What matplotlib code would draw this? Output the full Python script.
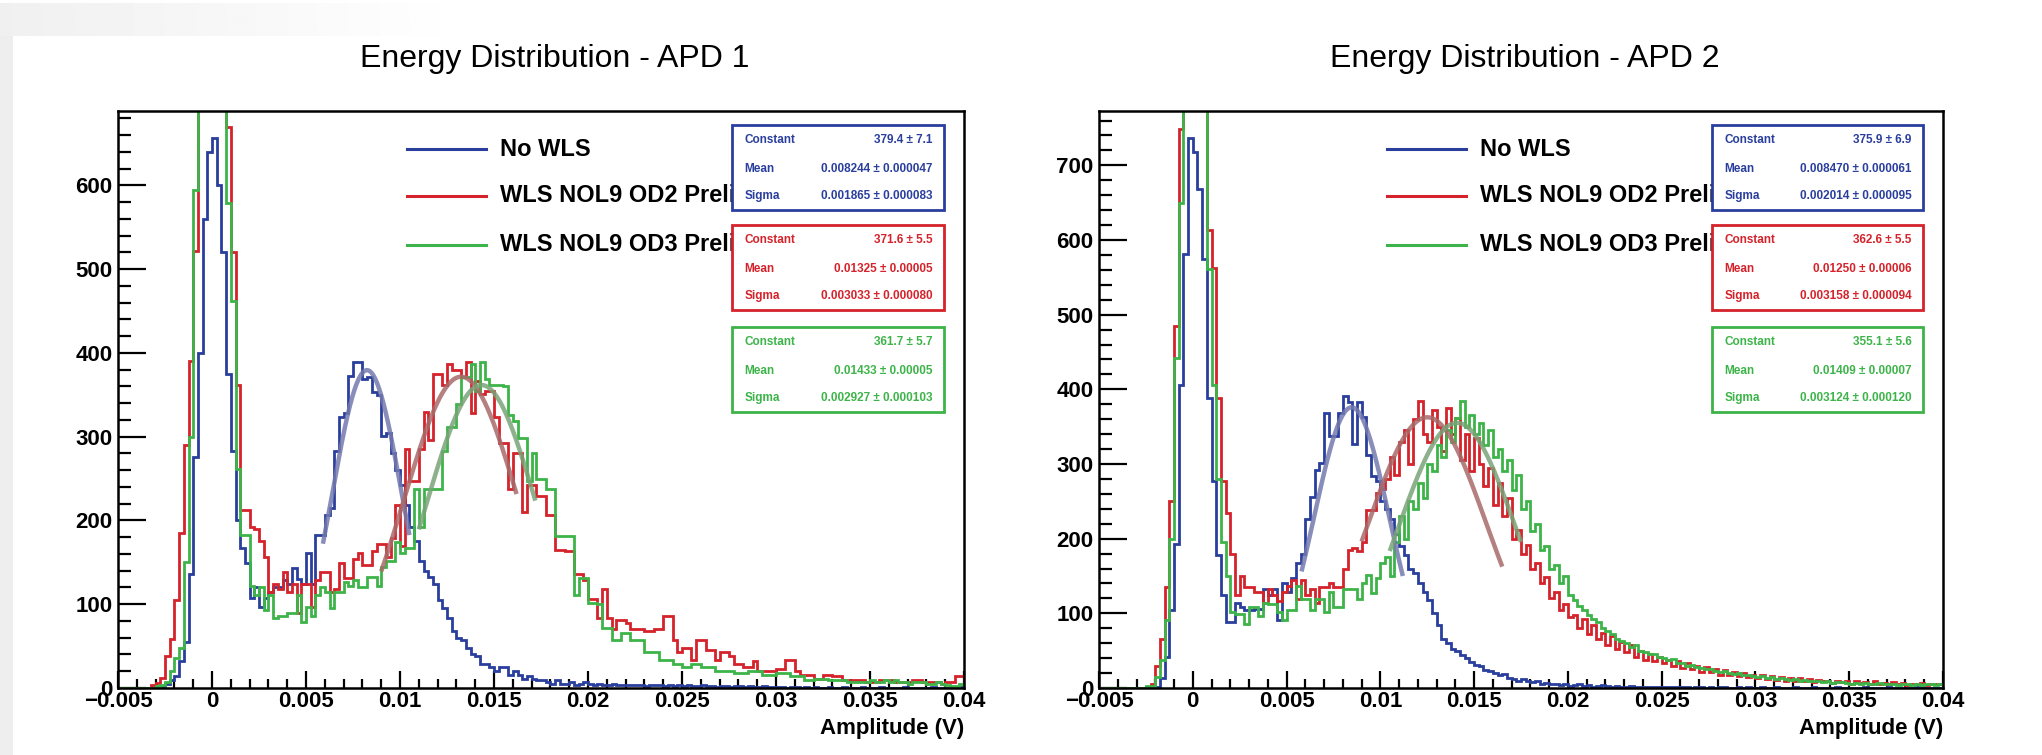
import numpy as np
import matplotlib
matplotlib.use("Agg")
import matplotlib.pyplot as plt
from matplotlib.patches import Rectangle
from matplotlib.lines import Line2D
from matplotlib.ticker import MultipleLocator, FuncFormatter

# amplitude histograms: 180 bins from -0.005 V to 0.04 V
x_lo, x_hi, n_bins = -0.005, 0.04, 180

apd1_nowls = (
    [0, 0, 0, 0, 0, 0, 0, 0, 0, 2, 5, 9, 14, 32, 55, 136, 276, 400, 560, 640]
    + [656, 600, 520, 375, 283, 201, 167, 149, 108, 120, 97, 108, 115, 120, 120, 129, 124, 143, 130, 124]
    + [161, 124, 183, 183, 206, 215, 283, 324, 328, 373, 389, 389, 369, 371, 353, 350, 301, 305, 280, 260]
    + [242, 219, 192, 175, 152, 140, 133, 124, 105, 95, 84, 68, 60, 57, 48, 40, 38, 29, 29, 25]
    + [20, 25, 25, 16, 20, 16, 11, 14, 11, 9, 9, 7, 5, 9, 5, 5, 7, 4, 5, 7]
    + [5, 4, 5, 3, 4, 5, 3, 3, 4, 3, 3, 4, 2, 3, 4, 3, 2, 3, 2, 3]
    + [2, 3, 2, 2, 3, 2, 2, 1, 2, 2, 1, 2, 2, 1, 2, 1, 1, 2, 1, 1]
    + [1, 1, 0, 1, 1, 0, 1, 0, 1, 0, 0, 1, 0, 0, 1, 0, 0, 0, 1, 0]
    + [0, 0, 1, 0, 0, 0, 0, 1, 0, 0, 0, 0, 0, 1, 0, 0, 0, 0, 0, 1]
)
apd1_od2 = (
    [0, 0, 0, 0, 0, 0, 0, 3, 6, 12, 38, 58, 105, 185, 290, 390, 522, 760, 830, 850]
    + [810, 760, 700, 670, 520, 362, 213, 213, 192, 190, 176, 156, 115, 124, 118, 138, 115, 124, 90, 124]
    + [124, 97, 129, 138, 138, 115, 118, 149, 131, 131, 154, 161, 147, 147, 163, 172, 172, 156, 179, 219]
    + [170, 285, 247, 247, 285, 330, 296, 375, 375, 362, 387, 380, 380, 371, 389, 328, 366, 351, 355, 355]
    + [323, 292, 292, 238, 280, 280, 210, 242, 242, 229, 229, 206, 206, 165, 165, 163, 163, 136, 136, 129]
    + [106, 106, 84, 118, 84, 70, 81, 81, 77, 70, 70, 70, 68, 68, 70, 70, 86, 86, 57, 43]
    + [48, 48, 34, 57, 57, 45, 45, 34, 43, 43, 38, 29, 29, 25, 25, 32, 20, 20, 20, 20]
    + [23, 23, 34, 34, 20, 16, 16, 16, 11, 11, 16, 16, 14, 14, 9, 9, 9, 9, 9, 7]
    + [7, 7, 9, 9, 9, 7, 7, 7, 7, 9, 9, 7, 7, 7, 7, 5, 7, 7, 14, 14]
)
apd1_od3 = (
    [0, 0, 0, 0, 0, 0, 0, 0, 2, 4, 7, 20, 36, 48, 150, 300, 595, 720, 850, 900]
    + [870, 800, 720, 579, 462, 262, 183, 183, 122, 111, 120, 93, 111, 84, 86, 86, 90, 90, 111, 79]
    + [97, 86, 111, 120, 115, 95, 115, 115, 127, 122, 129, 120, 120, 133, 133, 122, 145, 152, 152, 174]
    + [161, 167, 167, 238, 192, 238, 238, 238, 238, 283, 312, 312, 339, 371, 371, 387, 355, 389, 369, 362]
    + [362, 362, 360, 326, 319, 299, 299, 247, 280, 249, 249, 238, 238, 181, 181, 181, 181, 111, 131, 131]
    + [102, 102, 100, 72, 72, 57, 57, 66, 66, 57, 57, 57, 43, 43, 43, 34, 34, 34, 29, 29]
    + [25, 25, 29, 29, 25, 25, 25, 20, 20, 20, 20, 18, 18, 18, 20, 20, 20, 16, 16, 16]
    + [18, 18, 18, 14, 14, 14, 9, 9, 11, 11, 11, 9, 9, 9, 9, 7, 7, 7, 7, 7]
    + [9, 7, 7, 9, 7, 9, 7, 7, 5, 7, 7, 7, 5, 5, 7, 5, 3, 2, 2, 5]
)

apd2_nowls = (
    [0, 0, 0, 0, 0, 0, 0, 0, 0, 0, 0, 0, 2, 13, 41, 104, 193, 406, 581, 736]
    + [718, 668, 574, 388, 277, 178, 124, 89, 89, 114, 109, 104, 104, 106, 106, 132, 124, 132, 91, 140]
    + [129, 147, 168, 180, 226, 256, 292, 302, 368, 338, 338, 368, 391, 383, 327, 383, 363, 312, 284, 277]
    + [250, 240, 226, 206, 190, 178, 160, 154, 140, 128, 118, 100, 84, 66, 60, 52, 49, 44, 40, 35]
    + [31, 30, 24, 23, 20, 17, 19, 14, 12, 10, 12, 9, 8, 10, 6, 7, 5, 6, 4, 5]
    + [3, 4, 5, 3, 4, 2, 3, 4, 3, 2, 3, 2, 2, 3, 1, 2, 2, 1, 2, 1]
    + [2, 1, 1, 2, 1, 1, 0, 1, 1, 0, 1, 0, 1, 1, 0, 0, 1, 0, 1, 0]
    + [0, 1, 0, 0, 1, 0, 0, 0, 1, 0, 0, 0, 1, 0, 0, 0, 0, 1, 0, 0]
    + [0, 0, 0, 1, 0, 0, 0, 0, 1, 0, 0, 0, 0, 0, 1, 0, 0, 0, 0, 0]
)
apd2_od2 = (
    [0, 0, 0, 0, 0, 0, 0, 0, 0, 0, 2, 5, 30, 66, 135, 250, 485, 749, 830, 880]
    + [870, 830, 790, 614, 563, 388, 277, 234, 180, 124, 150, 135, 135, 129, 129, 114, 132, 124, 117, 129]
    + [137, 145, 119, 145, 124, 132, 114, 135, 135, 140, 135, 135, 160, 185, 188, 183, 195, 239, 239, 261]
    + [266, 280, 310, 285, 330, 345, 300, 360, 385, 340, 330, 372, 350, 318, 375, 340, 362, 305, 340, 290]
    + [335, 300, 270, 295, 245, 275, 230, 255, 200, 212, 180, 192, 160, 168, 140, 148, 120, 128, 105, 112]
    + [95, 98, 80, 92, 72, 85, 66, 74, 58, 70, 52, 62, 48, 58, 42, 50, 38, 46, 36, 42]
    + [33, 38, 30, 36, 27, 33, 25, 30, 22, 28, 21, 26, 18, 24, 17, 22, 16, 20, 15, 18]
    + [14, 17, 12, 16, 11, 15, 10, 14, 9, 13, 10, 12, 8, 11, 9, 10, 7, 10, 8, 9]
    + [6, 9, 7, 8, 6, 9, 5, 7, 6, 8, 5, 7, 4, 6, 5, 7, 4, 6, 5, 6]
)
apd2_od3 = (
    [0, 0, 0, 0, 0, 0, 0, 0, 0, 0, 3, 3, 15, 38, 91, 200, 442, 650, 800, 850]
    + [840, 800, 780, 561, 406, 280, 195, 150, 102, 99, 99, 86, 109, 109, 96, 114, 112, 112, 102, 91]
    + [104, 104, 137, 119, 119, 104, 119, 119, 102, 129, 109, 109, 132, 132, 132, 119, 140, 152, 127, 147]
    + [168, 175, 150, 195, 230, 200, 250, 240, 275, 255, 300, 290, 325, 310, 345, 330, 362, 385, 350, 365]
    + [340, 355, 325, 345, 310, 320, 290, 305, 265, 285, 240, 250, 210, 220, 185, 190, 160, 165, 140, 150]
    + [125, 118, 110, 105, 98, 92, 88, 80, 76, 72, 66, 63, 60, 55, 57, 50, 48, 45, 46, 41]
    + [40, 37, 39, 34, 33, 30, 31, 28, 27, 25, 26, 23, 22, 23, 20, 19, 20, 17, 18, 16]
    + [15, 16, 14, 15, 12, 13, 12, 11, 12, 10, 11, 9, 10, 9, 8, 9, 7, 8, 8, 7]
    + [6, 7, 6, 7, 5, 6, 7, 5, 6, 5, 4, 5, 6, 4, 5, 4, 5, 6, 4, 5]
)

series_labels = ["No WLS", "WLS NOL9 OD2 Preliminary", "WLS NOL9 OD3 Preliminary"]
series_colors = ["#2a3f9d", "#d5232b", "#3db449"]
fit_colors = ["#7479ad", "#a86a6a", "#78a478"]

# gaussian fit results (No WLS, OD2, OD3)
apd1_constant = ["379.4", "371.6", "361.7"]
apd1_constant_err = ["7.1", "5.5", "5.7"]
apd1_mean = ["0.008244", "0.01325", "0.01433"]
apd1_mean_err = ["0.000047", "0.00005", "0.00005"]
apd1_sigma = ["0.001865", "0.003033", "0.002927"]
apd1_sigma_err = ["0.000083", "0.000080", "0.000103"]
apd1_fit_range = [(0.0059, 0.0105), (0.0090, 0.0162), (0.0110, 0.0172)]

apd2_constant = ["375.9", "362.6", "355.1"]
apd2_constant_err = ["6.9", "5.5", "5.6"]
apd2_mean = ["0.008470", "0.01250", "0.01409"]
apd2_mean_err = ["0.000061", "0.00006", "0.00007"]
apd2_sigma = ["0.002014", "0.003158", "0.003124"]
apd2_sigma_err = ["0.000095", "0.000094", "0.000120"]
apd2_fit_range = [(0.0058, 0.0112), (0.0090, 0.0165), (0.0105, 0.0175)]

panels = [
    dict(title="Energy Distribution - APD 1", hists=[apd1_nowls, apd1_od2, apd1_od3],
         const=apd1_constant, const_err=apd1_constant_err, mean=apd1_mean, mean_err=apd1_mean_err,
         sigma=apd1_sigma, sigma_err=apd1_sigma_err, fit_range=apd1_fit_range),
    dict(title="Energy Distribution - APD 2", hists=[apd2_nowls, apd2_od2, apd2_od3],
         const=apd2_constant, const_err=apd2_constant_err, mean=apd2_mean, mean_err=apd2_mean_err,
         sigma=apd2_sigma, sigma_err=apd2_sigma_err, fit_range=apd2_fit_range),
]

plt.rcParams["font.family"] = ["Liberation Sans", "DejaVu Sans"]

W, H = 2042, 755
fig = plt.figure(figsize=(W / 100, H / 100), dpi=100)
fig.patch.set_facecolor("white")

# light grey page border at the top left and along the left edge
band = fig.add_axes([0, 1 - 36 / H, 470 / W, 33 / H])
band.imshow(np.linspace(0.94, 1.0, 256)[None, :], cmap="gray", vmin=0, vmax=1, aspect="auto")
band.axis("off")
fig.patches.append(Rectangle((0, 0), 13 / W, 1 - 36 / H, transform=fig.transFigure,
                             facecolor="#eeeeee", edgecolor="none"))

# axes frames in pixels: left, top, right, bottom
frames = [(118, 111, 964, 688), (1099, 111, 1943, 688)]
title_x = [555, 1525]

edges = np.linspace(x_lo, x_hi, n_bins + 1)
minus_fmt = FuncFormatter(lambda v, p: ("%g" % round(v, 6)).replace("-", "\u2212"))

for p, (l, t, r, b), tx in zip(panels, frames, title_x):
    ax = fig.add_axes([l / W, 1 - b / H, (r - l) / W, (b - t) / H])
    for spine in ax.spines.values():
        spine.set_linewidth(1.8)

    for counts, col in zip(p["hists"], series_colors):
        assert len(counts) == n_bins
        ax.stairs(counts, edges, color=col, linewidth=2.0, zorder=2)

    # gaussian fits
    for i in range(3):
        c, m, s = float(p["const"][i]), float(p["mean"][i]), float(p["sigma"][i])
        xs = np.linspace(*p["fit_range"][i], 300)
        ax.plot(xs, c * np.exp(-0.5 * ((xs - m) / s) ** 2), color=fit_colors[i],
                linewidth=3.2, alpha=0.85, zorder=3, solid_capstyle="butt")

    ax.set_xlim(x_lo, x_hi)
    ax.set_ylim(0, 1.05 * max(p["hists"][0]))

    ax.xaxis.set_major_locator(MultipleLocator(0.005))
    ax.xaxis.set_minor_locator(MultipleLocator(0.001))
    ax.yaxis.set_major_locator(MultipleLocator(100))
    ax.yaxis.set_minor_locator(MultipleLocator(20))
    ax.xaxis.set_major_formatter(minus_fmt)
    ax.tick_params(which="both", direction="in", top=False, right=False, width=1.6,
                   labelsize=16)
    ax.tick_params(axis="y", which="major", length=20, pad=4)
    ax.tick_params(axis="y", which="minor", length=9.5)
    ax.tick_params(axis="x", which="major", length=12, pad=2)
    ax.tick_params(axis="x", which="minor", length=6.5)
    for lab in ax.get_xticklabels() + ax.get_yticklabels():
        lab.set_fontweight("bold")

    ax.text(1.0, -0.07, "Amplitude (V)", transform=ax.transAxes, ha="right", va="center",
            fontsize=16, fontweight="bold")
    fig.text(tx / W, 1 - 59 / H, p["title"], ha="center", va="center", fontsize=23)

    # fit parameter boxes
    box_tops = [0.9757, 0.8024, 0.6256]
    box_h = 0.148
    bx0, bx1 = 0.7258, 0.9764

    # legend entries, running in under the fit boxes
    clip = Rectangle((0, 0), bx0, 1, transform=ax.transAxes, visible=False)
    ax.add_patch(clip)
    for i in range(3):
        y = [0.934, 0.853, 0.768][i]
        ax.add_line(Line2D([0.3416, 0.435], [y, y], transform=ax.transAxes, color=series_colors[i],
                           linewidth=2.2, zorder=4, clip_on=False))
        txt = ax.text(0.4515, y, series_labels[i], transform=ax.transAxes, ha="left", va="center",
                      fontsize=17, fontweight="bold", zorder=4)
        txt.set_clip_path(clip)

    for i in range(3):
        top = box_tops[i]
        ax.add_patch(Rectangle((bx0, top - box_h), bx1 - bx0, box_h, transform=ax.transAxes,
                               facecolor="white", edgecolor=series_colors[i], linewidth=2.0,
                               zorder=6, clip_on=False))
        rows = [("Constant", p["const"][i], p["const_err"][i]),
                ("Mean", p["mean"][i], p["mean_err"][i]),
                ("Sigma", p["sigma"][i], p["sigma_err"][i])]
        for k, (name, val, err) in enumerate(rows):
            yy = top - box_h * [0.18, 0.52, 0.83][k]
            ax.text(bx0 + 0.015, yy, name, transform=ax.transAxes, ha="left", va="center",
                    fontsize=8.5, fontweight="bold", color=series_colors[i], zorder=7)
            ax.text(bx1 - 0.014, yy, "%s \u00b1 %s" % (val, err), transform=ax.transAxes,
                    ha="right", va="center", fontsize=8.5, fontweight="bold",
                    color=series_colors[i], zorder=7)

fig.savefig("out.png", dpi=100, facecolor="white")
